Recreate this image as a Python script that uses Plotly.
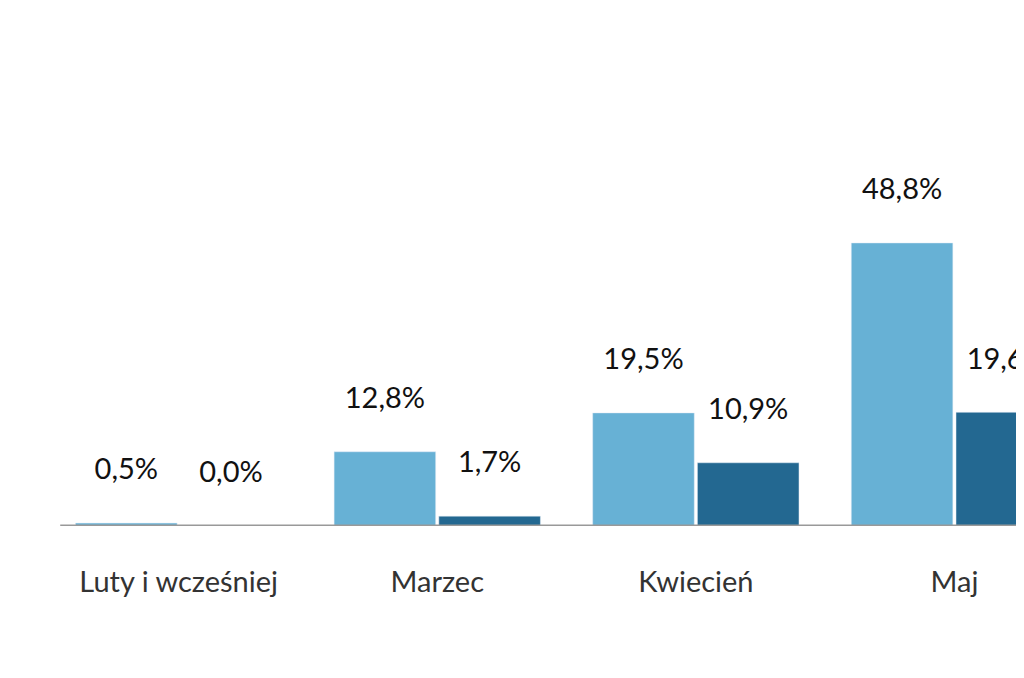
import plotly.graph_objects as go

miesiace = ["Luty i wcześniej", "Marzec", "Kwiecień", "Maj"]
seria_a = [0.5, 12.8, 19.5, 48.8]
seria_b = [0.0, 1.7, 10.9, 19.6]

# pusta linia pod etykietą, żeby odsunąć ją od słupka
szablon = "%{y:.1f}%<br><span style='font-size:14px'> </span>"

fig = go.Figure()
fig.add_bar(x=miesiace, y=seria_a, marker_color="#67b1d5",
            texttemplate=szablon, textposition="outside")
fig.add_bar(x=miesiace, y=seria_b, marker_color="#236891",
            texttemplate=szablon, textposition="outside")

fig.update_traces(textfont=dict(size=29, color="#111"), cliponaxis=False)

fig.update_layout(
    width=1024, height=678,
    separators=", ",
    barmode="group", bargap=0.19, bargroupgap=0.03,
    showlegend=False,
    plot_bgcolor="white", paper_bgcolor="white",
    margin=dict(l=0, r=0, t=0, b=160, autoexpand=False),
    font=dict(family="Lato", size=29, color="#333"),
    xaxis=dict(range=[-0.66, 3.3], showline=False, ticks="", ticklabelstandoff=36),
    yaxis=dict(range=[0, 89.3], visible=False),
    shapes=[dict(type="line", xref="paper", yref="y", x0=0.051, x1=1, y0=0, y1=0,
                 line=dict(color="#999", width=3))],
)

fig.write_html("out.html")
